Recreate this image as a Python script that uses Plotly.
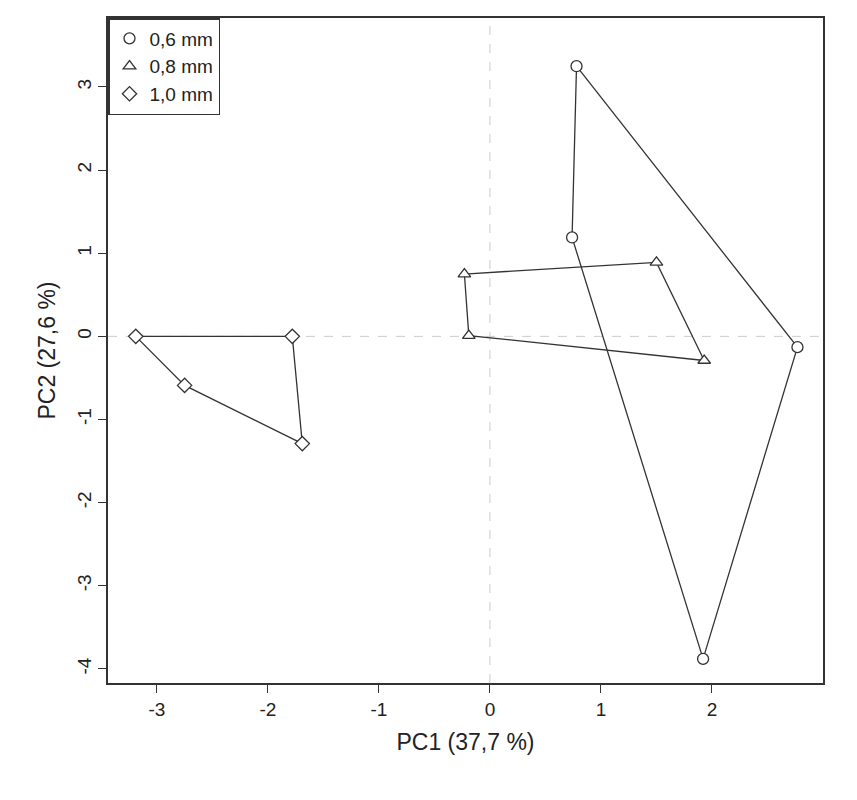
import plotly.graph_objects as go

labels = ["0,6 mm", "0,8 mm", "1,0 mm"]
symbols = ["circle", "triangle-up", "diamond"]
pc1 = [
    [0.78, 2.77, 1.92, 0.74],
    [-0.23, 1.50, 1.93, -0.19],
    [-3.19, -1.78, -1.69, -2.75],
]
pc2 = [
    [3.25, -0.13, -3.88, 1.19],
    [0.75, 0.89, -0.29, 0.01],
    [0.00, 0.00, -1.29, -0.59],
]
xticks = [-3, -2, -1, 0, 1, 2]
yticks = [-4, -3, -2, -1, 0, 1, 2, 3]

fig = go.Figure()
for lab, sym, xs, ys in zip(labels, symbols, pc1, pc2):
    fig.add_trace(go.Scatter(x=xs + xs[:1], y=ys + ys[:1], mode="lines",
                             line=dict(color="#333", width=1.3), showlegend=False, hoverinfo="skip"))
for lab, sym, xs, ys in zip(labels, symbols, pc1, pc2):
    fig.add_trace(go.Scatter(x=xs, y=ys, mode="markers", name=lab,
                             marker=dict(symbol=sym, size=11, color="white",
                                         line=dict(color="#333", width=1.3))))

fig.add_shape(type="line", x0=0, x1=0, y0=0, y1=1, xref="x", yref="paper",
              line=dict(color="#ccc", width=1, dash="dash"), layer="below")
fig.add_shape(type="line", x0=0, x1=1, y0=0, y1=0, xref="paper", yref="y",
              line=dict(color="#ccc", width=1, dash="dash"), layer="below")

ax = dict(showgrid=False, zeroline=False, showline=True, mirror=True, linecolor="#333",
          linewidth=1.5, ticks="outside", ticklen=8, tickcolor="#333",
          tickfont=dict(size=19, color="#222"))
fig.update_layout(
    width=857, height=800, plot_bgcolor="white", paper_bgcolor="white",
    font=dict(family="Liberation Sans, Arial", color="#222"),
    margin=dict(l=100, r=42, t=10, b=125, autoexpand=False),
    xaxis=dict(range=[-3.44, 3.0], tickvals=xticks, ticktext=[str(v) for v in xticks],
               title=dict(text="PC1 (37,7 %)", font=dict(size=23)), **ax),
    yaxis=dict(range=[-4.17, 3.83], tickvals=yticks, ticktext=[str(v) for v in yticks],
               tickangle=-90, title=dict(text="PC2 (27,6 %)", font=dict(size=23), standoff=12), **ax),
    legend=dict(x=0, y=1, xanchor="left", yanchor="top", bordercolor="#333", borderwidth=1.5,
                bgcolor="white", font=dict(size=19)),
)
fig.write_html("out.html")
